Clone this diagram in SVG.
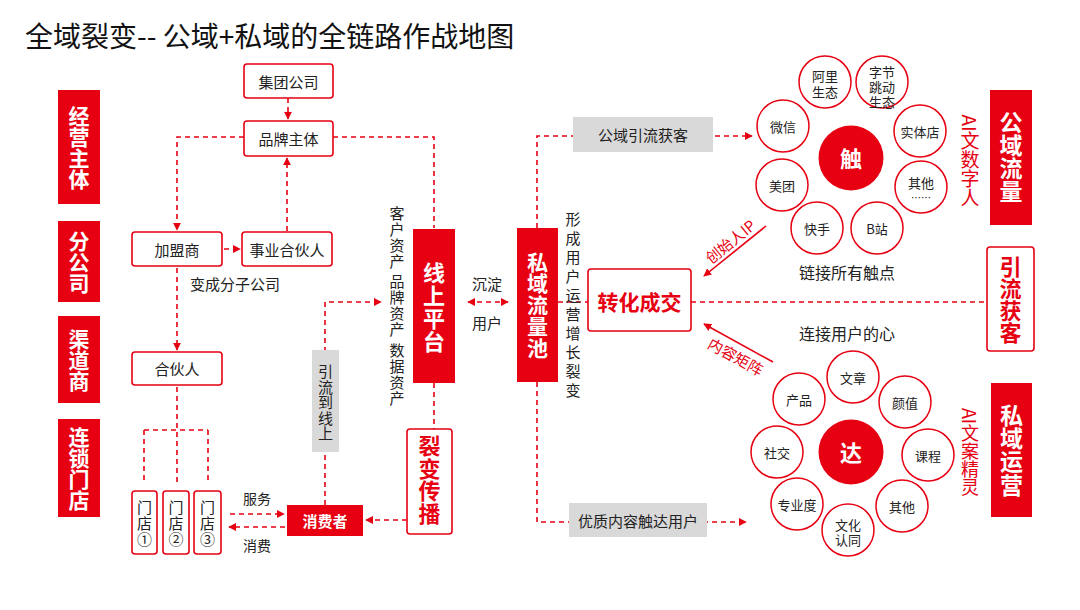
<svg xmlns="http://www.w3.org/2000/svg" width="1080" height="610" viewBox="0 0 1080 610">
<defs>
<style>
text{font-family:"Noto Sans CJK SC","Noto Sans",sans-serif;text-anchor:middle;dominant-baseline:central;fill:#222}
.v{writing-mode:vertical-rl;text-orientation:mixed}
.title{text-anchor:start;dominant-baseline:alphabetic;font-size:28px;fill:#111}
.box{fill:#fff;stroke:#E60012;stroke-width:1.6}
.rbox{fill:#E60012}
.gbox{fill:#D9D9D9}
.circ{fill:#fff;stroke:#E60012;stroke-width:1.5}
.dash{fill:none;stroke:#E60012;stroke-width:1.6;stroke-dasharray:5 4}
.solid{fill:none;stroke:#E60012;stroke-width:1.6}
.wb{fill:#fff;font-weight:bold}
.rb{fill:#E60012;font-weight:bold}
.red{fill:#E60012}
.n15{font-size:15px}
.n14{font-size:14px}
.n13{font-size:13px}
</style>
<marker id="ah" viewBox="0 0 10 10" refX="9" refY="5" markerWidth="8" markerHeight="8" markerUnits="userSpaceOnUse" orient="auto-start-reverse">
<path d="M0,0 L10,5 L0,10 z" fill="#E60012"/>
</marker>
</defs>
<rect width="1080" height="610" fill="#fff"/>

<text id="title" class="title" x="25" y="47">全域裂变-- 公域+私域的全链路作战地图</text>

<g id="connectors">
<path class="dash" d="M288,98 V119" marker-end="url(#ah)"/>
<path class="dash" d="M244,137 H177 V230" marker-end="url(#ah)"/>
<path class="dash" d="M224,249 H240" marker-end="url(#ah)"/>
<path class="dash" d="M287,231 V158" marker-end="url(#ah)"/>
<path class="dash" d="M333,137 H434 V228"/>
<path class="dash" d="M177,268 V350" marker-end="url(#ah)"/>
<path class="dash" d="M177,387 V482 M144,430 H208 M144,430 V482 M208,430 V482"/>
<path class="dash" d="M230,514 H284" marker-end="url(#ah)"/>
<path class="dash" d="M285,527 H229" marker-end="url(#ah)"/>
<path class="dash" d="M325,505 V302 H381" marker-end="url(#ah)"/>
<path class="dash" d="M468,302 H508" marker-start="url(#ah)" marker-end="url(#ah)"/>
<path class="dash" d="M434,383 V429"/>
<path class="dash" d="M407,520 H366" marker-end="url(#ah)"/>
<path class="dash" d="M537,228 V136 H752" marker-end="url(#ah)"/>
<path class="dash" d="M537,382 V522 H746" marker-end="url(#ah)"/>
<path class="dash" d="M558,302 H588"/>
<path class="dash" d="M691,302 H987"/>
<path class="solid" d="M766,226 L704,276" marker-end="url(#ah)"/>
<path class="solid" d="M773,362 L704,324" marker-end="url(#ah)"/>
</g>

<g id="side-jingying"><rect class="rbox" x="58" y="90" width="42" height="114"/>
<text class="v wb" style="font-size:21px" x="79" y="147.5">经营主体</text></g>
<g id="side-fengongsi"><rect class="rbox" x="58" y="221" width="42" height="81"/>
<text class="v wb" style="font-size:21px" x="79" y="262">分公司</text></g>
<g id="side-qudao"><rect class="rbox" x="58" y="316" width="42" height="87"/>
<text class="v wb" style="font-size:21px" x="79" y="360">渠道商</text></g>
<g id="side-liansuo"><rect class="rbox" x="58" y="419" width="42" height="98"/>
<text class="v wb" style="font-size:21px" x="79" y="468.5">连锁门店</text></g>

<g id="jituan"><rect class="box" x="244" y="64" width="89" height="34" rx="3"/><text class="n15" x="288.5" y="81">集团公司</text></g>
<g id="pinpai"><rect class="box" x="244" y="121" width="89" height="35" rx="3"/><text class="n15" x="288.5" y="138">品牌主体</text></g>
<g id="jiameng"><rect class="box" x="132" y="232" width="90" height="34" rx="3"/><text class="n15" x="177" y="249">加盟商</text></g>
<g id="shiye"><rect class="box" x="242" y="232" width="90" height="34" rx="3"/><text class="n15" x="287" y="249">事业合伙人</text></g>
<text id="fenzi" class="n15" x="235" y="283">变成分子公司</text>
<g id="huoban"><rect class="box" x="132" y="352" width="90" height="33" rx="3"/><text class="n15" x="177" y="368.5">合伙人</text></g>

<g id="store1"><rect class="box" x="132" y="491" width="25" height="63" rx="3"/>
<text class="v n15" style="letter-spacing:1px" x="144.5" y="524">门店①</text></g>
<g id="store2"><rect class="box" x="163" y="491" width="26" height="63" rx="3"/>
<text class="v n15" style="letter-spacing:1px" x="176" y="524">门店②</text></g>
<g id="store3"><rect class="box" x="194" y="491" width="27" height="63" rx="3"/>
<text class="v n15" style="letter-spacing:1px" x="207.5" y="524">门店③</text></g>
<text id="fuwu" class="n14" x="257" y="498">服务</text>
<text id="xiaofei" class="n14" x="257" y="545">消费</text>

<g id="xiaofeizhe"><rect class="rbox" x="287" y="505" width="76" height="31"/><text class="wb n15" x="325" y="520.5">消费者</text></g>

<g id="yinliu-xianshang"><rect class="gbox" x="312" y="350" width="27" height="102"/>
<text class="v n15" style="letter-spacing:0.5px" x="325.5" y="403">引流到线上</text></g>

<text id="assets" class="v n15" style="letter-spacing:1px" x="397" y="306">客户资产 品牌资产 数据资产</text>

<g id="xianshang"><rect class="rbox" x="413" y="229" width="42" height="154"/>
<text class="v wb" style="font-size:22px;letter-spacing:1px" x="434" y="307.5">线上平台</text></g>
<text class="n15" x="487" y="283">沉淀</text>
<text class="n15" x="487" y="322">用户</text>

<g id="liebian"><rect class="box" x="407" y="429" width="45" height="105" rx="3"/>
<text class="v rb" style="font-size:22px;letter-spacing:0.7px" x="429.5" y="480">裂变传播</text></g>

<g id="siyu-pool"><rect class="rbox" x="517" y="228" width="41" height="154"/>
<text class="v wb" style="font-size:21px;letter-spacing:0.5px" x="537.5" y="305">私域流量池</text></g>

<text id="xingcheng" class="v n15" style="letter-spacing:4px" x="573" y="306.5">形成用户运营增长裂变</text>

<g id="gongyu-yinliu"><rect class="gbox" x="573" y="117" width="140" height="35"/><text class="n15" x="643" y="134.5">公域引流获客</text></g>
<g id="youzhi"><rect class="gbox" x="569" y="503" width="138" height="34"/><text class="n15" x="638" y="520">优质内容触达用户</text></g>

<g id="zhuanhua"><rect class="box" x="588" y="269" width="103" height="62" rx="3"/><text class="rb" style="font-size:21px" x="639.5" y="301">转化成交</text></g>

<text class="red n15" transform="translate(730,241) rotate(-39)" x="0" y="0">创始人IP</text>
<text class="red n15" transform="translate(736,356) rotate(29)" x="0" y="0">内容矩阵</text>

<text style="font-size:16px" x="847" y="272">链接所有触点</text>
<text style="font-size:16px" x="847" y="333">连接用户的心</text>

<g id="chu-cluster">
<circle class="circ" cx="825" cy="82" r="26"/><text class="n13"><tspan x="825" y="75">阿里</tspan><tspan x="825" y="91">生态</tspan></text>
<circle class="circ" cx="882" cy="82" r="26"/><text class="n13"><tspan x="882" y="71">字节</tspan><tspan x="882" y="86">跳动</tspan><tspan x="882" y="101">生态</tspan></text>
<circle class="circ" cx="920" cy="131" r="26"/><text class="n13" x="920" y="131">实体店</text>
<circle class="circ" cx="921" cy="187" r="26"/><text class="n13" x="921" y="182">其他</text><text style="font-size:10px" x="921" y="197">……</text>
<circle class="circ" cx="877" cy="228" r="26"/><text class="n13" x="877" y="228">B站</text>
<circle class="circ" cx="817" cy="228" r="26"/><text class="n13" x="817" y="228">快手</text>
<circle class="circ" cx="782" cy="185" r="26"/><text class="n13" x="782" y="185">美团</text>
<circle class="circ" cx="783" cy="126" r="26"/><text class="n13" x="783" y="126">微信</text>
<circle cx="851" cy="158" r="32.5" fill="#E60012"/><text class="wb" style="font-size:22px" x="851" y="157">触</text>
</g>

<g id="da-cluster">
<circle class="circ" cx="853" cy="377" r="26"/><text class="n13" x="853" y="377">文章</text>
<circle class="circ" cx="905" cy="402" r="26"/><text class="n13" x="905" y="402">颜值</text>
<circle class="circ" cx="928" cy="455" r="26"/><text class="n13" x="928" y="455">课程</text>
<circle class="circ" cx="902" cy="506" r="26"/><text class="n13" x="902" y="506">其他</text>
<circle class="circ" cx="848" cy="530" r="26"/><text class="n13"><tspan x="848" y="524">文化</tspan><tspan x="848" y="539">认同</tspan></text>
<circle class="circ" cx="797" cy="504" r="26"/><text class="n13" x="797" y="504">专业度</text>
<circle class="circ" cx="777" cy="452" r="26"/><text class="n13" x="777" y="452">社交</text>
<circle class="circ" cx="799" cy="399" r="26"/><text class="n13" x="799" y="399">产品</text>
<circle cx="851" cy="452" r="32.5" fill="#E60012"/><text class="wb" style="font-size:22px" x="851" y="451">达</text>
</g>

<g id="ai-shuziren"><text class="v red" style="font-size:19px" x="970" y="161">AI文数字人</text></g>
<g id="gongyu-liuliang"><rect class="rbox" x="990" y="90" width="42" height="135"/>
<text class="v wb" style="font-size:23px" x="1011" y="156.5">公域流量</text></g>

<g id="yinliu-huoke"><rect class="box" x="987" y="247" width="47" height="104" rx="3"/>
<text class="v rb" style="font-size:22px" x="1010.5" y="300">引流获客</text></g>

<g id="ai-wenan"><text class="v red" style="font-size:18px" x="970" y="452">AI文案精灵</text></g>
<g id="siyu-yunying"><rect class="rbox" x="991" y="383" width="41" height="134"/>
<text class="v wb" style="font-size:23px;letter-spacing:0.3px" x="1011.5" y="450">私域运营</text></g>
</svg>
